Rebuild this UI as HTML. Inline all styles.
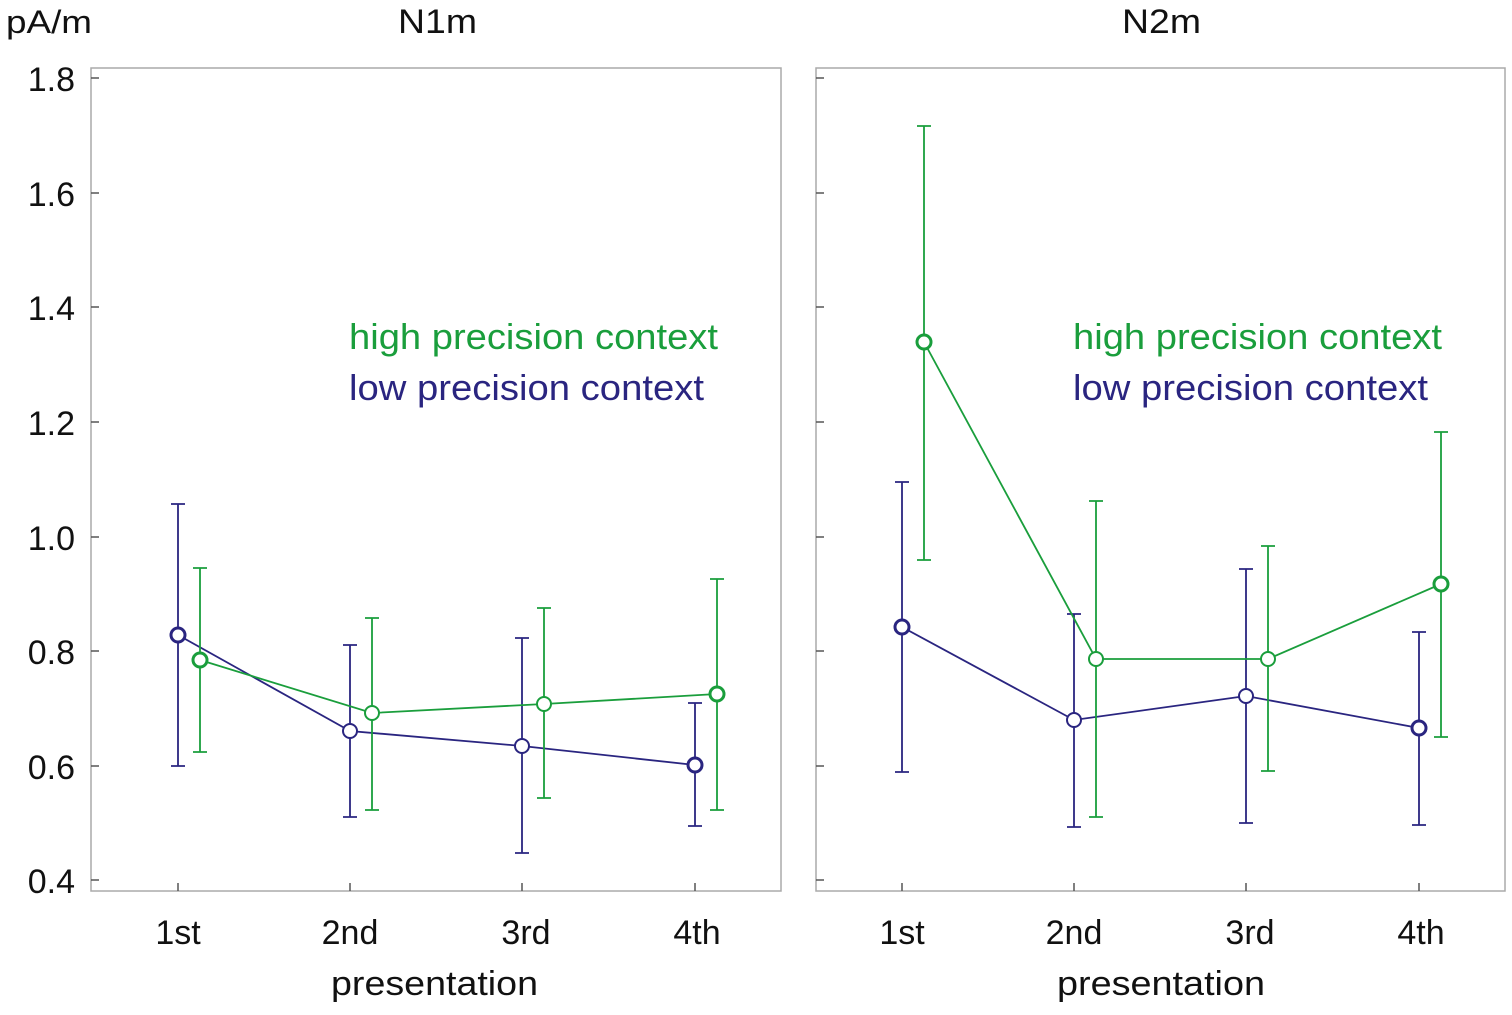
<!DOCTYPE html>
<html><head><meta charset="utf-8"><style>html,body{margin:0;padding:0;background:#fff}</style></head>
<body>
<svg width="1512" height="1010" viewBox="0 0 1512 1010" xmlns="http://www.w3.org/2000/svg" font-family="Liberation Sans, sans-serif">
<rect width="1512" height="1010" fill="#fff"/>
<g fill="none" stroke="#aaa" stroke-width="1.5">
<rect x="91" y="68" width="690" height="823"/>
<rect x="816" y="68" width="689" height="823"/>
</g>
<g stroke="#555" stroke-width="1.5">
<line x1="91" y1="78" x2="99" y2="78"/><line x1="91" y1="193" x2="99" y2="193"/><line x1="91" y1="307" x2="99" y2="307"/><line x1="91" y1="422" x2="99" y2="422"/><line x1="91" y1="537" x2="99" y2="537"/><line x1="91" y1="651" x2="99" y2="651"/><line x1="91" y1="766" x2="99" y2="766"/><line x1="91" y1="880" x2="99" y2="880"/>
<line x1="816" y1="78" x2="824" y2="78"/><line x1="816" y1="193" x2="824" y2="193"/><line x1="816" y1="307" x2="824" y2="307"/><line x1="816" y1="422" x2="824" y2="422"/><line x1="816" y1="537" x2="824" y2="537"/><line x1="816" y1="651" x2="824" y2="651"/><line x1="816" y1="766" x2="824" y2="766"/><line x1="816" y1="880" x2="824" y2="880"/>
<line x1="178" y1="891" x2="178" y2="883"/><line x1="350" y1="891" x2="350" y2="883"/><line x1="522" y1="891" x2="522" y2="883"/><line x1="695" y1="891" x2="695" y2="883"/>
<line x1="902" y1="891" x2="902" y2="883"/><line x1="1074" y1="891" x2="1074" y2="883"/><line x1="1246" y1="891" x2="1246" y2="883"/><line x1="1419" y1="891" x2="1419" y2="883"/>
</g>
<g font-size="34" fill="#111" text-anchor="end">
<text x="75" y="91">1.8</text><text x="75" y="206">1.6</text><text x="75" y="320">1.4</text><text x="75" y="435">1.2</text><text x="75" y="550">1.0</text><text x="75" y="664">0.8</text><text x="75" y="779">0.6</text><text x="75" y="893">0.4</text>
</g>
<g font-size="34" fill="#111" text-anchor="middle">
<text x="178" y="944">1st</text><text x="350" y="944">2nd</text><text x="526" y="944">3rd</text><text x="697" y="944">4th</text>
<text x="902" y="944">1st</text><text x="1074" y="944">2nd</text><text x="1250" y="944">3rd</text><text x="1421" y="944">4th</text>
</g>
<g font-size="34" fill="#111">
<text x="331" y="995" textLength="207" lengthAdjust="spacingAndGlyphs">presentation</text>
<text x="1057" y="995" textLength="208" lengthAdjust="spacingAndGlyphs">presentation</text>
<text x="398" y="33" textLength="79" lengthAdjust="spacingAndGlyphs">N1m</text>
<text x="1122" y="33" textLength="79" lengthAdjust="spacingAndGlyphs">N2m</text>
</g>
<text x="6" y="33" font-size="32" fill="#111" textLength="86" lengthAdjust="spacingAndGlyphs">pA/m</text>
<g font-size="36">
<text x="349" y="349" fill="#1a9e3c" textLength="369" lengthAdjust="spacingAndGlyphs">high precision context</text>
<text x="349" y="400" fill="#2a2580" textLength="355" lengthAdjust="spacingAndGlyphs">low precision context</text>
<text x="1073" y="349" fill="#1a9e3c" textLength="369" lengthAdjust="spacingAndGlyphs">high precision context</text>
<text x="1073" y="400" fill="#2a2580" textLength="355" lengthAdjust="spacingAndGlyphs">low precision context</text>
</g>
<g stroke="#2a2580" stroke-width="1.8" fill="none">
<path d="M178 504V766M171 504H185M171 766H185M350 645V817M343 645H357M343 817H357M522 638V853M515 638H529M515 853H529M695 703V826M688 703H702M688 826H702"/>
<polyline points="178,635 350,731 522,746 695,765"/>
<path d="M902 482V772M895 482H909M895 772H909M1074 614V827M1067 614H1081M1067 827H1081M1246 569V823M1239 569H1253M1239 823H1253M1419 632V825M1412 632H1426M1412 825H1426"/>
<polyline points="902,627 1074,720 1246,696 1419,728"/>
</g>
<g stroke="#1a9e3c" stroke-width="1.8" fill="none">
<path d="M200 568V752M193 568H207M193 752H207M372 618V810M365 618H379M365 810H379M544 608V798M537 608H551M537 798H551M717 579V810M710 579H724M710 810H724"/>
<polyline points="200,660 372,713 544,704 717,694"/>
<path d="M924 126V560M917 126H931M917 560H931M1096 501V817M1089 501H1103M1089 817H1103M1268 546V771M1261 546H1275M1261 771H1275M1441 432V737M1434 432H1448M1434 737H1448"/>
<polyline points="924,342 1096,659 1268,659 1441,584"/>
</g>
<g fill="#fff" stroke="#2a2580" stroke-width="2">
<circle cx="178" cy="635" r="7" stroke-width="3"/><circle cx="350" cy="731" r="7"/><circle cx="522" cy="746" r="7"/><circle cx="695" cy="765" r="7" stroke-width="3"/>
<circle cx="902" cy="627" r="7" stroke-width="3"/><circle cx="1074" cy="720" r="7"/><circle cx="1246" cy="696" r="7"/><circle cx="1419" cy="728" r="7" stroke-width="3"/>
</g>
<g fill="#fff" stroke="#1a9e3c" stroke-width="2">
<circle cx="200" cy="660" r="7" stroke-width="3"/><circle cx="372" cy="713" r="7"/><circle cx="544" cy="704" r="7"/><circle cx="717" cy="694" r="7" stroke-width="3"/>
<circle cx="924" cy="342" r="7" stroke-width="3"/><circle cx="1096" cy="659" r="7"/><circle cx="1268" cy="659" r="7"/><circle cx="1441" cy="584" r="7" stroke-width="3"/>
</g>
</svg>
</body></html>
